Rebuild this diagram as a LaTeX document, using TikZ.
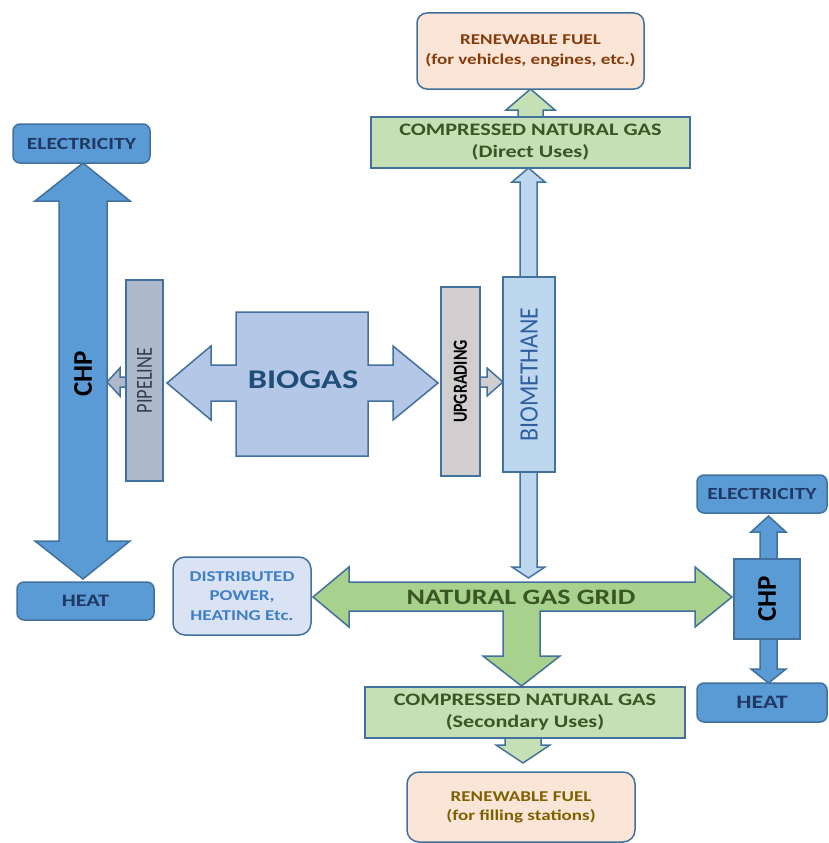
\documentclass[tikz,border=0pt]{standalone}
\usepackage{fontspec}
\setmainfont{Carlito}
\newfontfamily\hf{Carlito}[FakeStretch=1.27]
\newfontfamily\vfa{Carlito}[FakeStretch=0.8]
\newfontfamily\vfb{Carlito}[FakeStretch=0.9]
\definecolor{bord}{HTML}{41719C}
\definecolor{renfill}{HTML}{FBE5D6}
\definecolor{rentopt}{HTML}{843C0C}
\definecolor{renbott}{HTML}{7F6000}
\definecolor{cngfill}{HTML}{C5E0B4}
\definecolor{cngtext}{HTML}{385723}
\definecolor{ngfill}{HTML}{A9D18E}
\definecolor{chpfill}{HTML}{5B9BD5}
\definecolor{elect}{HTML}{203864}
\definecolor{biofill}{HTML}{B4C7E7}
\definecolor{biotext}{HTML}{1F4E79}
\definecolor{bmfill}{HTML}{BDD7EE}
\definecolor{bmtext}{HTML}{2F5F9E}
\definecolor{pipefill}{HTML}{ADB9CA}
\definecolor{pipetext}{HTML}{333F50}
\definecolor{upgfill}{HTML}{D0CECE}
\definecolor{distfill}{HTML}{DAE3F3}
\definecolor{disttext}{HTML}{3F7FC8}
\tikzset{
  box/.style={draw=bord, line width=1.5pt, inner sep=0pt, align=center},
  rbox/.style={box, rounded corners=10pt},
  barrow/.style={draw=bord, line width=1.5pt, line join=miter},
}
\begin{document}
\begin{tikzpicture}[x=1pt,y=-1pt]
\useasboundingbox (0,0) rectangle (828,843);

% ---------- block arrows (drawn first) ----------
% left CHP double arrow
\path[barrow, fill=chpfill] (83,163) -- (130,201) -- (107,201) -- (107,541) -- (130,541) -- (83,579)
  -- (35,541) -- (59,541) -- (59,201) -- (35,201) -- cycle;
% pipeline -> CHP small arrow
\path[barrow, fill=pipefill] (130,377) -- (120,377) -- (120,368) -- (107,382) -- (120,396) -- (120,387) -- (130,387);
% biogas shape
\path[barrow, fill=biofill] (236,312) -- (368,312) -- (368,365) -- (393,365) -- (393,346) -- (438,383)
  -- (393,420) -- (393,401) -- (368,401) -- (368,456) -- (236,456) -- (236,401) -- (211,401)
  -- (211,420) -- (167,383) -- (211,346) -- (211,365) -- (236,365) -- cycle;
% upgrading -> biomethane small arrow
\path[barrow, fill=upgfill] (476,377) -- (487,377) -- (487,368) -- (503,382) -- (487,396) -- (487,387) -- (476,387);
% biomethane double arrow
\path[barrow, fill=bmfill] (528.5,168) -- (545,182) -- (537,182) -- (537,567) -- (545,567) -- (528.5,578)
  -- (512,567) -- (520,567) -- (520,182) -- (512,182) -- cycle;
% CNG direct -> renewable fuel
\path[barrow, fill=cngfill] (518,121) -- (518,110) -- (506,110) -- (530.5,89) -- (555,110) -- (543,110) -- (543,121);
% natural gas grid
\path[barrow, fill=ngfill] (313,597) -- (349,567) -- (349,582) -- (695,582) -- (695,567) -- (732,597)
  -- (695,627) -- (695,611) -- (540,611) -- (540,656) -- (560,656) -- (521.5,686) -- (483,656)
  -- (503,656) -- (503,611) -- (349,611) -- (349,627) -- cycle;
% right CHP double arrow
\path[barrow, fill=chpfill] (768.5,516) -- (786,532) -- (777,532) -- (777,669) -- (786,669) -- (768.5,683)
  -- (751,669) -- (760,669) -- (760,532) -- (751,532) -- cycle;
% CNG secondary -> renewable fuel
\path[barrow, fill=cngfill] (505,734) -- (505,745) -- (496,745) -- (523,763) -- (550,745) -- (541,745) -- (541,734);

% ---------- boxes ----------
\node[rbox, fill=renfill, text=rentopt, minimum width=227, minimum height=76,
  font=\hf\bfseries\fontsize{15}{20}\selectfont] (ren1) at (530.5,51)
  {RENEWABLE FUEL\\(for vehicles, engines, etc.)};
\node[box, fill=cngfill, text=cngtext, minimum width=319, minimum height=51,
  font=\hf\bfseries\fontsize{17.5}{22}\selectfont] (cngd) at (530.5,142.5)
  {COMPRESSED NATURAL GAS\\(Direct Uses)};
\node[rbox, rounded corners=7pt, fill=chpfill, text=elect, minimum width=137, minimum height=39,
  font=\hf\bfseries\fontsize{17}{20}\selectfont] (elecL) at (81.5,143.5) {ELECTRICITY};
\node[rbox, rounded corners=7pt, fill=chpfill, text=elect, minimum width=137, minimum height=38,
  font=\hf\bfseries\fontsize{17.5}{20}\selectfont] (heatL) at (85.5,601) {HEAT};
\node[box, fill=pipefill, text=pipetext, minimum width=37, minimum height=201,
  font=\vfa\fontsize{23}{24}\selectfont] (pipe) at (144.5,380.5) {\rotatebox{90}{PIPELINE}};
\node[box, fill=upgfill, text=black, minimum width=39, minimum height=189,
  font=\vfa\bfseries\fontsize{20}{22}\selectfont] (upg) at (460.5,381.5) {\rotatebox{90}{UPGRADING}};
\node[box, fill=bmfill, text=bmtext, minimum width=52, minimum height=195,
  font=\vfb\fontsize{26.5}{28}\selectfont] (bmeth) at (529,374.5) {\rotatebox{90}{BIOMETHANE}};
\node[rbox, rounded corners=12pt, fill=distfill, text=disttext, minimum width=138, minimum height=78,
  font=\hf\bfseries\fontsize{15}{19.5}\selectfont] (dist) at (242,596)
  {DISTRIBUTED\\POWER,\\HEATING Etc.};
\node[rbox, rounded corners=7pt, fill=chpfill, text=elect, minimum width=130, minimum height=38,
  font=\hf\bfseries\fontsize{17}{20}\selectfont] (elecR) at (762,494) {ELECTRICITY};
\node[box, fill=chpfill, text=black, minimum width=66, minimum height=80,
  font=\bfseries\fontsize{27}{28}\selectfont] (chpR) at (767,599) {\rotatebox{90}{CHP}};
\node[rbox, rounded corners=7pt, fill=chpfill, text=elect, minimum width=130, minimum height=39,
  font=\hf\bfseries\fontsize{19}{20}\selectfont] (heatR) at (762,702.5) {HEAT};
\node[box, fill=cngfill, text=cngtext, minimum width=320, minimum height=51,
  font=\hf\bfseries\fontsize{17.5}{22}\selectfont] (cngs) at (525,712.5)
  {COMPRESSED NATURAL GAS\\(Secondary Uses)};
\node[rbox, rounded corners=12pt, fill=renfill, text=renbott, minimum width=228, minimum height=70,
  font=\hf\bfseries\fontsize{15}{19}\selectfont] (ren2) at (521,807)
  {RENEWABLE FUEL\\(for filling stations)};

% ---------- labels on block shapes ----------
\node[text=black, font=\bfseries\fontsize{27}{28}\selectfont, inner sep=0pt] (chpL) at (83,374) {\rotatebox{90}{CHP}};
\node[text=biotext, font=\hf\bfseries\fontsize{27}{30}\selectfont, inner sep=0pt] (biogas) at (303,380) {BIOGAS};
\node[text=cngtext, font=\hf\bfseries\fontsize{22}{24}\selectfont, inner sep=0pt] (ngg) at (521,597) {NATURAL GAS GRID};
\end{tikzpicture}
\end{document}
